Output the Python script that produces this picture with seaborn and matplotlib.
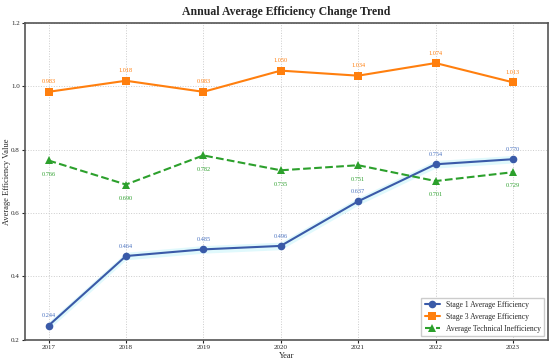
import matplotlib
matplotlib.use('Agg')
import matplotlib.pyplot as plt
import seaborn as sns
import pandas as pd

years = [2017, 2018, 2019, 2020, 2021, 2022, 2023]
stage1 = [0.244, 0.464, 0.485, 0.496, 0.637, 0.754, 0.770]
stage3 = [0.983, 1.018, 0.983, 1.050, 1.034, 1.074, 1.013]
ineff = [0.766, 0.690, 0.782, 0.735, 0.751, 0.701, 0.729]

sns.set_style('whitegrid')
plt.rcParams['font.family'] = ['Liberation Serif', 'DejaVu Serif']

fig = plt.figure(figsize=(5.5, 3.62), dpi=100)
ax = fig.add_axes([0.046, 0.062, 0.950, 0.874])

df = pd.DataFrame({'Year': years, 's1': stage1, 's3': stage3, 'ti': ineff})

# faint band round stage 1
ax.fill_between(years, [v - 0.012 for v in stage1], [v + 0.012 for v in stage1],
                color='#ccf5fb', alpha=0.6, lw=0)

sns.lineplot(data=df, x='Year', y='s1', ax=ax, color='#3a5aa8', marker='o',
             markersize=5.5, lw=1.5, markeredgewidth=0, label='Stage 1 Average Efficiency')
sns.lineplot(data=df, x='Year', y='s3', ax=ax, color='#ff7f0e', marker='s',
             markersize=5.5, lw=1.5, markeredgewidth=0, label='Stage 3 Average Efficiency')
sns.lineplot(data=df, x='Year', y='ti', ax=ax, color='#2ca02c', marker='^',
             markersize=5.5, lw=1.5, linestyle='--', markeredgewidth=0,
             label='Average Technical Inefficiency')

for x, a, b, c in zip(years, stage1, stage3, ineff):
    ax.annotate(f'{a:.3f}', (x, a), xytext=(0, 6), textcoords='offset points',
                ha='center', fontsize=4.5, color='#4a72c0')
    ax.annotate(f'{b:.3f}', (x, b), xytext=(0, 6), textcoords='offset points',
                ha='center', fontsize=4.5, color='#ff7f0e')
    ax.annotate(f'{c:.3f}', (x, c), xytext=(0, -11), textcoords='offset points',
                ha='center', fontsize=4.5, color='#2ca02c')

ax.set_xlim(2016.7, 2023.45)
ax.set_ylim(0.2, 1.2)
ax.set_xticks(years)
ax.set_yticks([0.2, 0.4, 0.6, 0.8, 1.0, 1.2])
ax.tick_params(labelsize=5, length=2, pad=2, left=True, bottom=True)
ax.grid(True, linestyle=':', color='#cccccc', lw=0.7)
for s in ax.spines.values():
    s.set_color('#555555')
    s.set_linewidth(1.2)

ax.set_title('Annual Average Efficiency Change Trend', fontsize=8.5, fontweight='bold', pad=6)
ax.set_xlabel('Year', fontsize=6, labelpad=1)
ax.set_ylabel('Average Efficiency Value', fontsize=6, labelpad=0)
ax.legend(loc='lower right', fontsize=5.5, frameon=True, framealpha=1,
          edgecolor='#cccccc', fancybox=False)

fig.savefig('out.png', dpi=100)
